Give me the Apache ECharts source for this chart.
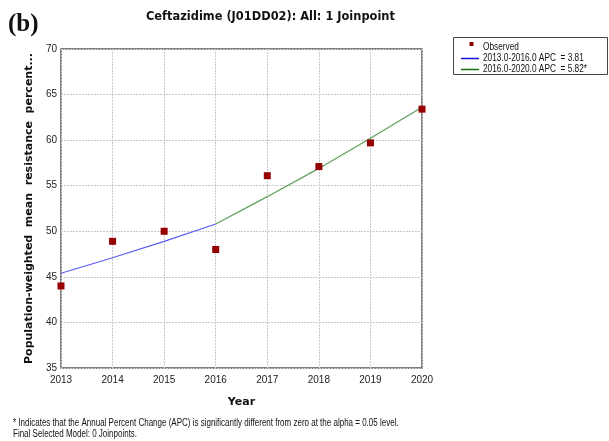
<!DOCTYPE html>
<html>
<head>
<meta charset="utf-8">
<script src="https://cdn.jsdelivr.net/npm/echarts@6/dist/echarts.min.js"></script>
<style>
  html, body { margin: 0; padding: 0; background: #fff; }
  #chart { width: 609px; height: 441px; }
</style>
</head>
<body>
<div id="chart"></div>
<script>
// Observed yearly values
const years = [2013, 2014, 2015, 2016, 2017, 2018, 2019, 2020];
const observed = [44.0, 48.9, 50.0, 48.0, 56.1, 57.1, 59.7, 63.4];

// Fitted joinpoint segments
const seg1Years = [2013, 2014, 2015, 2016];
const seg1Values = [45.4, 47.1, 48.9, 50.8];
const seg2Years = [2016, 2017, 2018, 2019, 2020];
const seg2Values = [50.8, 53.8, 56.9, 60.2, 63.6];

// Axis ticks
const yTicks = [35, 40, 45, 50, 55, 60, 65, 70];
const xTicks = years;

const legendLabels = ['Observed', '2013.0-2016.0 APC  = 3.81', '2016.0-2020.0 APC  = 5.82*'];

const pair = (xs, ys) => xs.map((x, i) => [x, ys[i]]);

const chart = echarts.init(document.getElementById('chart'), null, { renderer: 'canvas' });

const gridLine = { show: true, lineStyle: { color: '#c8c8c8', type: [2, 1], width: 1 } };
const tickFont = { fontFamily: 'Liberation Sans', fontSize: 10, color: '#222' };
const smallFont = '10px "Liberation Sans"';

chart.setOption({
  animation: false,
  backgroundColor: '#fff',
  grid: { left: 61, right: 187, top: 49, bottom: 73, show: true, borderColor: '#555', borderWidth: 1.5, backgroundColor: '#fff' },
  xAxis: {
    type: 'value', min: xTicks[0], max: xTicks[xTicks.length - 1], interval: 1,
    axisLine: { show: false }, axisTick: { show: false },
    axisLabel: Object.assign({ margin: 7, formatter: v => String(v) }, tickFont),
    splitLine: gridLine,
    name: 'Year', nameLocation: 'middle', nameGap: 29,
    nameTextStyle: { fontFamily: 'DejaVu Sans', fontWeight: 'bold', fontSize: 11, color: '#111' }
  },
  yAxis: {
    type: 'value', min: yTicks[0], max: yTicks[yTicks.length - 1], interval: 5,
    axisLine: { show: false }, axisTick: { show: false },
    axisLabel: Object.assign({ margin: 4, formatter: v => String(v) }, tickFont),
    splitLine: gridLine,
    name: 'Population-weighted  mean  resistance  percent...', nameLocation: 'middle', nameGap: 19,
    nameTextStyle: { fontFamily: 'DejaVu Sans', fontWeight: 'bold', fontSize: 11, color: '#111' }
  },
  series: [
    { name: legendLabels[1], type: 'line', data: pair(seg1Years, seg1Values), symbol: 'none',
      lineStyle: { color: '#5a5af5', width: 1.2 }, z: 2 },
    { name: legendLabels[2], type: 'line', data: pair(seg2Years, seg2Values), symbol: 'none',
      lineStyle: { color: '#5c9f5c', width: 1.2 }, z: 2 },
    { name: legendLabels[0], type: 'scatter', data: pair(years, observed), symbol: 'rect', symbolSize: 7,
      itemStyle: { color: '#960000', opacity: 1 }, z: 3 }
  ],
  graphic: [
    { type: 'text', x: 8, y: 12, style: { text: '(b)', font: 'bold 25px "Liberation Serif"', fill: '#111' } },
    { type: 'text', x: 146, y: 11, scaleX: 0.95, style: { text: 'Ceftazidime (J01DD02): All: 1 Joinpoint', font: 'bold 12px "DejaVu Sans"', fill: '#111' } },
    // legend box
    { type: 'rect', shape: { x: 453.5, y: 37.5, width: 154, height: 37 }, style: { fill: '#fff', stroke: '#444', lineWidth: 1 } },
    { type: 'rect', shape: { x: 469.5, y: 42, width: 4, height: 4 }, style: { fill: '#8e0000' } },
    { type: 'line', shape: { x1: 461, y1: 58.5, x2: 479, y2: 58.5 }, style: { stroke: '#1010e0', lineWidth: 1.5 } },
    { type: 'line', shape: { x1: 461, y1: 69.5, x2: 479, y2: 69.5 }, style: { stroke: '#107010', lineWidth: 1.5 } },
    { type: 'text', x: 483, y: 42, scaleX: 0.83, style: { text: legendLabels[0], font: smallFont, fill: '#111' } },
    { type: 'text', x: 483, y: 53, scaleX: 0.83, style: { text: legendLabels[1], font: smallFont, fill: '#111' } },
    { type: 'text', x: 483, y: 64, scaleX: 0.83, style: { text: legendLabels[2], font: smallFont, fill: '#111' } },
    // footnotes
    { type: 'text', x: 13, y: 418, scaleX: 0.8, style: { text: '* Indicates that the Annual Percent Change (APC) is significantly different from zero at the alpha = 0.05 level.', font: smallFont, fill: '#111' } },
    { type: 'text', x: 13, y: 429, scaleX: 0.8, style: { text: 'Final Selected Model: 0 Joinpoints.', font: smallFont, fill: '#111' } }
  ]
});
</script>
</body>
</html>
